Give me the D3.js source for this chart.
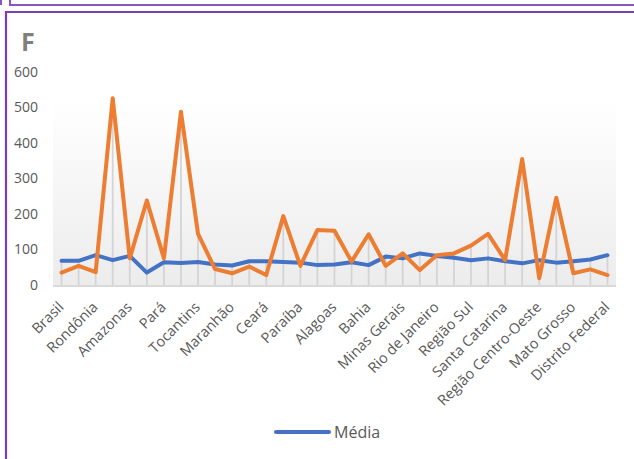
<!DOCTYPE html>
<html>
<head>
<meta charset="utf-8">
<script src="https://cdn.jsdelivr.net/npm/d3@7"></script>
<style>
  html, body { margin: 0; padding: 0; background: #fff; }
  svg { display: block; }
  text { font-family: "Open Sans", "Noto Sans", sans-serif; }
</style>
</head>
<body>
<svg id="chart" width="634" height="459"></svg>
<script>
// Unidades da federação, na ordem das regiões
const categorias = [
  "Brasil", "Região Norte", "Rondônia", "Acre", "Amazonas", "Roraima", "Pará", "Amapá",
  "Tocantins", "Região Nordeste", "Maranhão", "Piauí", "Ceará", "Rio Grande do Norte",
  "Paraíba", "Pernambuco", "Alagoas", "Sergipe", "Bahia", "Região Sudeste", "Minas Gerais",
  "Espírito Santo", "Rio de Janeiro", "São Paulo", "Região Sul", "Paraná", "Santa Catarina",
  "Rio Grande do Sul", "Região Centro-Oeste", "Mato Grosso do Sul", "Mato Grosso", "Goiás",
  "Distrito Federal"
];

// Série "Média"
const media = [
  68, 68, 84, 70, 82, 35, 64, 62, 65, 58, 55, 67, 67, 65, 63, 56,
  58, 64, 56, 80, 75, 89, 82, 77, 70, 75, 67, 61, 70, 63, 67, 72, 84
];

// Segunda série (sem entrada na legenda)
const valores = [
  35, 54, 36, 526, 75, 238, 75, 488, 144, 45, 33, 52, 28, 194, 54, 155,
  153, 66, 143, 54, 89, 42, 84, 89, 111, 144, 70, 355, 19, 246, 33, 44, 28
];

const yTicks = [0, 100, 200, 300, 400, 500, 600];

const svg = d3.select("#chart");

// Molduras
svg.append("path").attr("d", "M1,0 V5").attr("stroke", "#8a55c0").attr("stroke-width", 2).attr("fill", "none");
svg.append("path").attr("d", "M10,0 V5 H634").attr("stroke", "#8a55c0").attr("stroke-width", 2).attr("fill", "none");
svg.append("path").attr("d", "M6,459 V12 H634").attr("stroke", "#7a3fb5").attr("stroke-width", 2.2).attr("fill", "none");

// Título
svg.append("text").attr("x", 21).attr("y", 51)
  .attr("font-family", "'Liberation Sans', Arial, sans-serif")
  .attr("font-weight", "bold").attr("font-size", 25).attr("fill", "#7f7f7f")
  .text("F");

const x = d3.scaleBand().domain(categorias).range([53, 616]);
const cx = d => x(d) + x.bandwidth() / 2;
const y = d3.scaleLinear().domain([0, 600]).range([285, 72]);

// Fundo da área de plotagem
const defs = svg.append("defs");
const grad = defs.append("linearGradient").attr("id", "fundo")
  .attr("x1", 0).attr("y1", 0).attr("x2", 0).attr("y2", 1);
grad.append("stop").attr("offset", "0%").attr("stop-color", "#ffffff");
grad.append("stop").attr("offset", "100%").attr("stop-color", "#ececec");
svg.append("rect").attr("x", 53).attr("y", 98).attr("width", 563).attr("height", 187)
  .attr("fill", "url(#fundo)");

// Eixo Y (rótulos apenas)
const yAxis = d3.axisLeft(y).tickValues(yTicks).tickSize(0).tickPadding(0);
const gy = svg.append("g").attr("transform", "translate(38,0)").call(yAxis);
gy.select(".domain").remove();
gy.selectAll("text").attr("font-size", 14).attr("fill", "#595959")
  .attr("font-family", "'Open Sans', sans-serif");

// Linhas de queda
svg.append("g").selectAll("line").data(categorias).join("line")
  .attr("x1", d => cx(d)).attr("x2", d => cx(d))
  .attr("y1", (d, i) => y(Math.max(media[i], valores[i])))
  .attr("y2", y(0) + 1)
  .attr("stroke", "#d4d4d4").attr("stroke-width", 1.8);

// Eixo X
svg.append("line").attr("x1", 53).attr("x2", 616).attr("y1", y(0) + 1).attr("y2", y(0) + 1)
  .attr("stroke", "#d9d9d9").attr("stroke-width", 2);

const rotulos = categorias.filter((d, i) => i % 2 === 0);
svg.append("g").selectAll("text").data(rotulos).join("text")
  .attr("transform", d => `translate(${cx(d) + 3},${y(0) + 23}) rotate(-45)`)
  .attr("text-anchor", "end").attr("font-size", 14.5).attr("fill", "#595959")
  .text(d => d);

// Séries
const linha = serie => d3.line()
  .x((d, i) => cx(categorias[i]))
  .y(d => y(d))(serie);

svg.append("path").attr("d", linha(media)).attr("fill", "none")
  .attr("stroke", "#4472c4").attr("stroke-width", 4).attr("stroke-linejoin", "round").attr("stroke-linecap", "round");
svg.append("path").attr("d", linha(valores)).attr("fill", "none")
  .attr("stroke", "#ed7d31").attr("stroke-width", 4).attr("stroke-linejoin", "round").attr("stroke-linecap", "round");

// Legenda
const leg = svg.append("g");
leg.append("line").attr("x1", 276).attr("x2", 329).attr("y1", 432).attr("y2", 432)
  .attr("stroke", "#4472c4").attr("stroke-width", 4).attr("stroke-linecap", "round");
leg.append("text").attr("x", 334).attr("y", 438).attr("font-size", 16).attr("fill", "#595959")
  .text("Média");
</script>
</body>
</html>
